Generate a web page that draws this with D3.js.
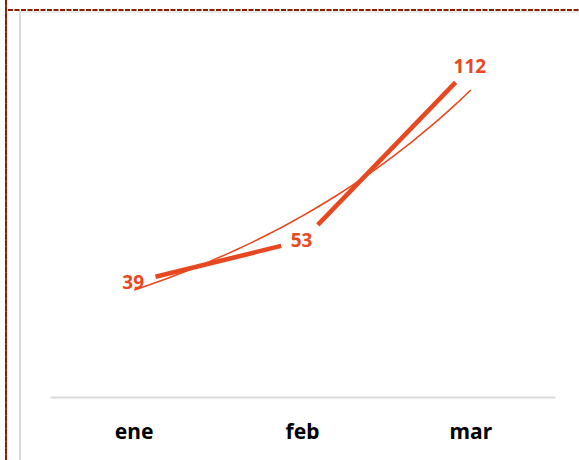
<!DOCTYPE html>
<html>
<head>
<meta charset="utf-8">
<script src="https://cdn.jsdelivr.net/npm/d3@7"></script>
<style>
  html, body { margin: 0; padding: 0; background: #fff; }
  svg { display: block; }
</style>
</head>
<body>
<div id="container"></div>
<script>
const months = ["ene", "feb", "mar"];
const values = [39, 53, 112];

const width = 579;
const height = 460;
const orange = "#e8481f";

const svg = d3.create("svg").attr("width", width).attr("height", height);

// frame: dashed border top/left and grey plot-area edge
svg.append("line")
  .attr("x1", 6).attr("x2", 6).attr("y1", 0).attr("y2", height)
  .attr("stroke", "#b24a2e").attr("stroke-width", 2);
svg.append("line")
  .attr("x1", 6).attr("x2", 6).attr("y1", 0).attr("y2", height)
  .attr("stroke", "#8a1d02").attr("stroke-width", 2)
  .attr("stroke-dasharray", "5.5,1");
svg.append("line")
  .attr("x1", 20).attr("x2", width).attr("y1", 12).attr("y2", 12)
  .attr("stroke", "#e2e2e2").attr("stroke-width", 1.5);
svg.append("line")
  .attr("x1", 20).attr("x2", 20).attr("y1", 11).attr("y2", height)
  .attr("stroke", "#d9d9d9").attr("stroke-width", 2);
svg.append("line")
  .attr("x1", 8).attr("x2", width).attr("y1", 10).attr("y2", 10)
  .attr("stroke", "#8a1d02").attr("stroke-width", 2.2)
  .attr("stroke-dasharray", "5,1.5");

const x = d3.scaleBand().domain(months).range([50, 555]).padding(0);
const xc = (m) => x(m) + x.bandwidth() / 2;
const y = d3.scaleLinear().domain([0, 120]).range([397, 43]);

// category axis
const xAxis = svg.append("g")
  .attr("transform", `translate(0,397)`)
  .call(d3.axisBottom(x).tickSize(0).tickPadding(27));
xAxis.select(".domain").attr("stroke", "#d9d9d9").attr("stroke-width", 2);
xAxis.selectAll("text")
  .attr("font-family", "'Noto Sans', sans-serif")
  .attr("font-size", "21px")
  .attr("font-weight", "bold")
  .attr("fill", "#000");

const pts = months.map((m, i) => ({ m, v: values[i], px: xc(m), py: y(values[i]) }));

// exponential trendline fitted to the series
const idx = values.map((v, i) => i + 1);
const lnV = values.map((v) => Math.log(v));
const mx = d3.mean(idx), my = d3.mean(lnV);
const b = d3.sum(idx, (t, i) => (t - mx) * (lnV[i] - my)) / d3.sum(idx, (t) => (t - mx) ** 2);
const a = my - b * mx;
const xi = d3.scaleLinear().domain([1, months.length]).range([xc(months[0]), xc(months[months.length - 1])]);
const trend = d3.range(1, months.length + 0.001, 0.05).map((t) => [xi(t), y(Math.exp(a + b * t))]);

svg.append("path")
  .attr("d", d3.line()(trend))
  .attr("fill", "none")
  .attr("stroke", orange)
  .attr("stroke-width", 1.6);

// main line, trimmed around each labelled point
const gap = 22;
const segs = d3.pairs(pts).map(([p, q]) => {
  const dx = q.px - p.px, dy = q.py - p.py;
  const len = Math.hypot(dx, dy);
  const ux = dx / len, uy = dy / len;
  return [[p.px + ux * gap, p.py + uy * gap], [q.px - ux * gap, q.py - uy * gap]];
});
svg.selectAll(".seg")
  .data(segs)
  .join("path")
  .attr("class", "seg")
  .attr("d", (d) => d3.line()(d))
  .attr("fill", "none")
  .attr("stroke", orange)
  .attr("stroke-width", 4.5);

// data labels
svg.selectAll(".lbl")
  .data(pts)
  .join("text")
  .attr("class", "lbl")
  .attr("x", (d) => d.px - 1)
  .attr("y", (d) => d.py)
  .attr("dy", "0.36em")
  .attr("text-anchor", "middle")
  .attr("font-family", "'Noto Sans', sans-serif")
  .attr("font-size", "19px")
  .attr("font-weight", "bold")
  .attr("fill", orange)
  .text((d) => d.v);

d3.select("#container").append(() => svg.node());
</script>
</body>
</html>
